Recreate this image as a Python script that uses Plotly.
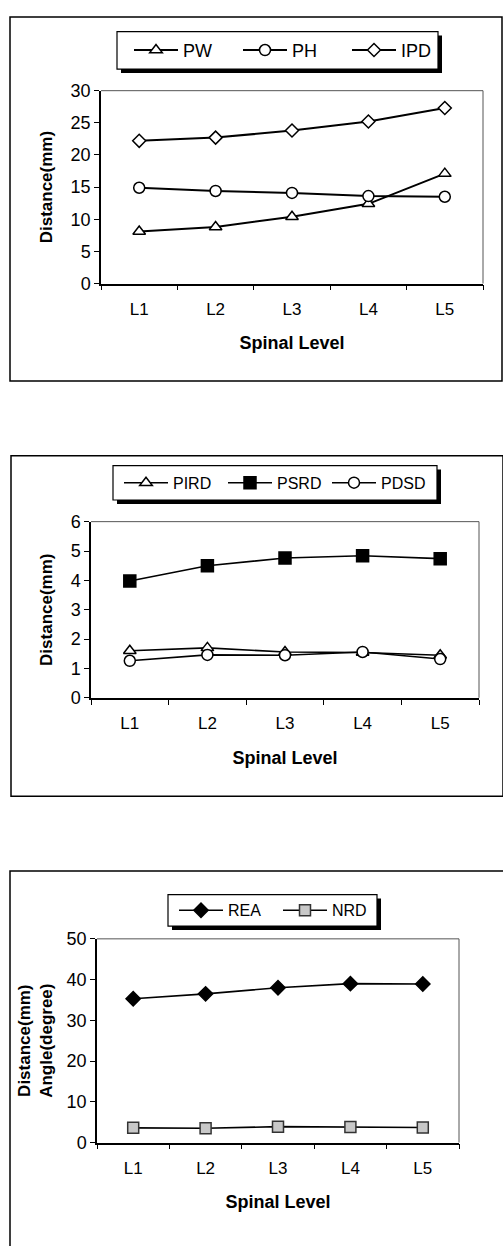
import plotly.graph_objects as go

W, H = 503, 1246

levels = ["L1", "L2", "L3", "L4", "L5"]
# Panel 1
pw = [8.1, 8.8, 10.4, 12.4, 17.1]
ph = [14.9, 14.4, 14.1, 13.6, 13.5]
ipd = [22.2, 22.7, 23.8, 25.2, 27.3]
# Panel 2
pird = [1.60, 1.70, 1.56, 1.54, 1.45]
psrd = [3.98, 4.50, 4.76, 4.84, 4.74]
pdsd = [1.26, 1.46, 1.45, 1.56, 1.32]
# Panel 3
rea = [35.3, 36.5, 38.0, 39.0, 38.9]
nrd = [3.6, 3.5, 3.9, 3.8, 3.7]


def px(x):
    return x / W


def py(y):
    return 1 - y / H


FONT = "Liberation Sans, Arial, sans-serif"

fig = go.Figure()


def add(y, name, xa, ya, legend, symbol, size, fill, lw, lcol="black", mlw=1.5):
    fig.add_trace(go.Scatter(
        x=levels, y=y, name=name, mode="lines+markers",
        xaxis=xa, yaxis=ya, legend=legend,
        line=dict(color="black", width=lw),
        marker=dict(symbol=symbol, size=size, color=fill,
                    line=dict(color=lcol, width=mlw)),
    ))


add(pw, "PW", "x", "y", "legend", "triangle-up", 11, "white", 2)
add(ph, "PH", "x", "y", "legend", "circle", 11, "white", 2)
add(ipd, "IPD", "x", "y", "legend", "diamond", 10, "white", 2)

add(pird, "PIRD", "x2", "y2", "legend2", "triangle-up", 11, "white", 1.6)
add(psrd, "PSRD", "x2", "y2", "legend2", "square", 12, "black", 1.6)
add(pdsd, "PDSD", "x2", "y2", "legend2", "circle", 11, "white", 1.6)

add(rea, "REA", "x3", "y3", "legend3", "diamond", 11, "black", 1.6)
add(nrd, "NRD", "x3", "y3", "legend3", "square", 11, "#c8c8c8", 1.6, lcol="#333333")

panels = [
    # xa, ya, left, right, top, bottom, yrange, dtick, ytitle, ytitle standoff
    ("xaxis", "yaxis", 101, 483, 82, 278, [0, 30], 5, "Distance(mm)", 14),
    ("xaxis2", "yaxis2", 91, 479, 520, 699, [0, 6], 1, "Distance(mm)", 14),
    ("xaxis3", "yaxis3", 97, 459, 944, 1151, [0, 50], 10, "Distance(mm)<br>Angle(degree)", 10),
]

layout = dict(
    width=W, height=H, margin=dict(l=0, r=0, t=0, b=0),
    paper_bgcolor="white", plot_bgcolor="white",
    font=dict(family=FONT, size=18, color="black"),
)
shapes = []
for i, (xa, ya, l, r, t, b, yr, dt, yt, ysd) in enumerate(panels):
    yid = "y" if i == 0 else f"y{i+1}"
    xid = "x" if i == 0 else f"x{i+1}"
    layout[xa] = dict(
        domain=[px(l), px(r)], anchor=yid, type="category",
        range=[-0.5, 4.5], tickson="boundaries", ticks="outside", ticklen=5,
        tickwidth=1.2, tickcolor="black",
        showline=True, linecolor="black", linewidth=1.5, showgrid=False,
        zeroline=False, ticklabelstandoff=9,
        tickfont=dict(size=17),
        title=dict(text="<b>Spinal Level</b>", font=dict(size=18), standoff=19),
    )
    layout[ya] = dict(
        domain=[py(b), py(t)], anchor=xid, range=yr, dtick=dt,
        ticks="outside", ticklen=5, tickwidth=1.2, tickcolor="black",
        showline=True, linecolor="black", linewidth=1.5, showgrid=False,
        zeroline=False, tickfont=dict(size=18),
        title=dict(text=f"<b>{yt}</b>", font=dict(size=17), standoff=ysd),
    )
    # plot-area border on top and right
    shapes.append(dict(type="line", xref="paper", yref="paper",
                       x0=px(l), x1=px(r), y0=py(t), y1=py(t),
                       line=dict(color="#555555", width=1)))
    shapes.append(dict(type="line", xref="paper", yref="paper",
                       x0=px(r), x1=px(r), y0=py(t), y1=py(b),
                       line=dict(color="#555555", width=1)))

# outer panel frames
for (l, t, r, b) in [(10, 7, 502, 377), (11, 453, 503, 799), (10, 875, 510, 1260)]:
    shapes.append(dict(type="rect", xref="paper", yref="paper",
                       x0=px(l), x1=px(r), y0=py(b), y1=py(t),
                       line=dict(color="black", width=1.5)))

# legend boxes with drop shadow
legend_boxes = [(117, 22, 438, 60), (113, 463, 437, 498), (168, 899, 377, 931)]
for (l, t, r, b) in legend_boxes:
    s = 4
    shapes.append(dict(type="rect", xref="paper", yref="paper",
                       x0=px(l + s), x1=px(r + s), y0=py(b + s), y1=py(t + s),
                       fillcolor="black", line=dict(width=0)))
    shapes.append(dict(type="rect", xref="paper", yref="paper",
                       x0=px(l), x1=px(r), y0=py(b), y1=py(t),
                       fillcolor="white", line=dict(color="black", width=1.2)))

layout["shapes"] = shapes

leg_common = dict(orientation="h", bgcolor="rgba(0,0,0,0)", borderwidth=0,
                  itemwidth=44, xanchor="left", yanchor="middle",
                  entrywidthmode="pixels", tracegroupgap=0)
layout["legend"] = dict(leg_common, x=px(129), y=py(41), entrywidth=50, font=dict(size=18))
layout["legend2"] = dict(leg_common, x=px(119), y=py(480.5), entrywidth=45, font=dict(size=16))
layout["legend3"] = dict(leg_common, x=px(174), y=py(915), entrywidth=45, font=dict(size=16))

fig.update_layout(**layout)
fig.write_html("out.html", config={"displayModeBar": False},
               post_script="document.body.style.margin='0';document.body.style.overflow='hidden';")
